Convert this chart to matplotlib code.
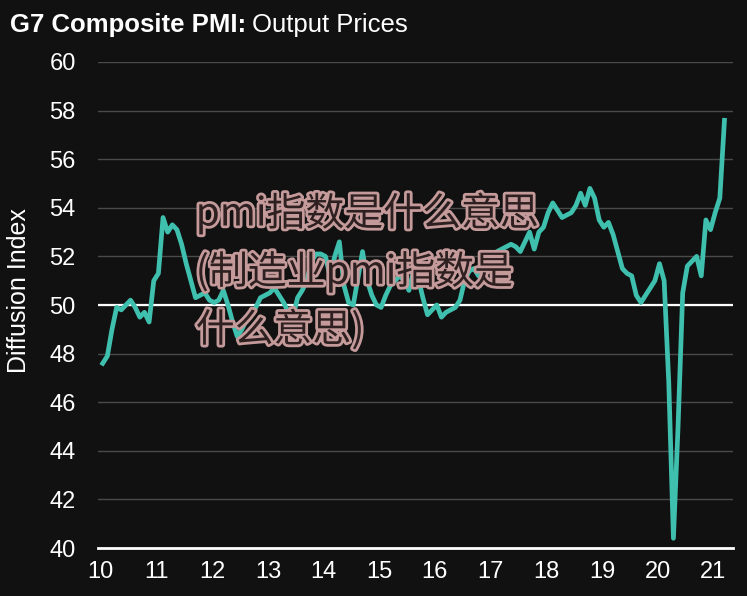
import matplotlib
matplotlib.use('Agg')
import matplotlib.pyplot as plt
import matplotlib.patheffects as pe

# G7 composite PMI output prices, monthly from Jan 2010
pmi = [47.6, 47.9, 49.0, 49.9, 49.8, 50.0, 50.2, 49.9, 49.5, 49.7, 49.3, 51.0,
       51.3, 53.6, 53.0, 53.3, 53.1, 52.5, 51.7, 51.0, 50.3, 50.4, 50.5, 50.2,
       50.1, 50.2, 50.6, 50.0, 49.3, 48.7, 49.0, 49.4, 49.6, 49.9, 50.3, 50.4,
       50.5, 50.7, 50.4, 50.1, 49.7, 49.5, 50.3, 50.6, 51.0, 51.8, 52.1, 52.1,
       52.0, 51.2, 52.0, 52.6, 50.8, 50.1, 50.0, 51.1, 52.2, 51.0, 50.4, 50.0,
       49.9, 50.4, 50.8, 51.0, 51.2, 51.0, 50.6, 51.4, 51.1, 50.3, 49.6, 49.8,
       50.0, 49.5, 49.7, 49.8, 49.9, 50.2, 51.0, 51.4, 51.5, 51.2, 51.6, 51.9,
       52.0, 52.2, 52.3, 52.4, 52.5, 52.4, 52.2, 52.6, 53.0, 52.3, 53.0, 53.2,
       53.8, 54.2, 53.9, 53.6, 53.7, 53.8, 54.1, 54.6, 54.1, 54.8, 54.4, 53.5,
       53.2, 53.4, 52.9, 52.2, 51.5, 51.3, 51.2, 50.4, 50.1, 50.4, 50.7, 51.0,
       51.7, 51.0, 46.8, 40.4, 45.0, 50.5, 51.6, 51.8, 52.0, 51.2, 53.5, 53.1,
       53.8, 54.4, 57.6]
start_year = 10
years = list(range(10, 22))
y_ticks = list(range(40, 61, 2))

bg = '#111111'
teal = '#3fbfad'

fig = plt.figure(figsize=(7.47, 5.96), dpi=100, facecolor=bg)
ax = fig.add_axes([0.131, 0.0805, 0.85, 0.8155], facecolor=bg)

x = [start_year + (i + 0.4) / 12 for i in range(len(pmi))]
ax.plot(x, pmi, color=teal, linewidth=3.4, solid_joinstyle='round', zorder=3)

ax.set_ylim(40, 60)
ax.set_xlim(9.946, 21.35)
ax.set_yticks(y_ticks)
ax.set_xticks(years)
ax.set_xticklabels([str(y) for y in years])
ax.grid(axis='y', color='#4a4a4a', linewidth=1)
ax.axhline(50, color='white', linewidth=1.6, zorder=2)
for s in ['top', 'right', 'left']:
    ax.spines[s].set_visible(False)
ax.spines['bottom'].set_color('white')
ax.spines['bottom'].set_linewidth(2)
ax.tick_params(length=0, colors='white', labelsize=17)
ax.tick_params(axis='y', pad=16)
ax.tick_params(axis='x', pad=9)
for lab in ax.get_xticklabels() + ax.get_yticklabels():
    lab.set_family('Liberation Sans')

ax.set_ylabel('Diffusion Index', color='white', fontsize=18, family='Liberation Sans')
ax.yaxis.set_label_coords(-0.106, 0.53)

# title: bold part + normal part
t1 = fig.text(0.013, 0.958, 'G7 Composite PMI:', color='white', fontsize=18.5,
              fontweight='bold', family='Liberation Sans', va='center')
fig.canvas.draw()
bb = t1.get_window_extent()
fig.text(bb.x1 / fig.bbox.width + 0.008, 0.958, 'Output Prices', color='white',
         fontsize=18.5, family='Liberation Sans', va='center')

# watermark
wm = ['pmi指数是什么意思', '(制造业pmi指数是', '什么意思)']
for k, line in enumerate(wm):
    fig.text(0.262, 0.642 - k * 0.098, line, color='#2e2020', fontsize=28,
             family=['Noto Sans CJK SC', 'DejaVu Sans'],
             va='center', zorder=10,
             path_effects=[pe.Stroke(linewidth=4, foreground='#c49a9a'), pe.Normal()])

plt.savefig('out.png', dpi=100, facecolor=bg)
